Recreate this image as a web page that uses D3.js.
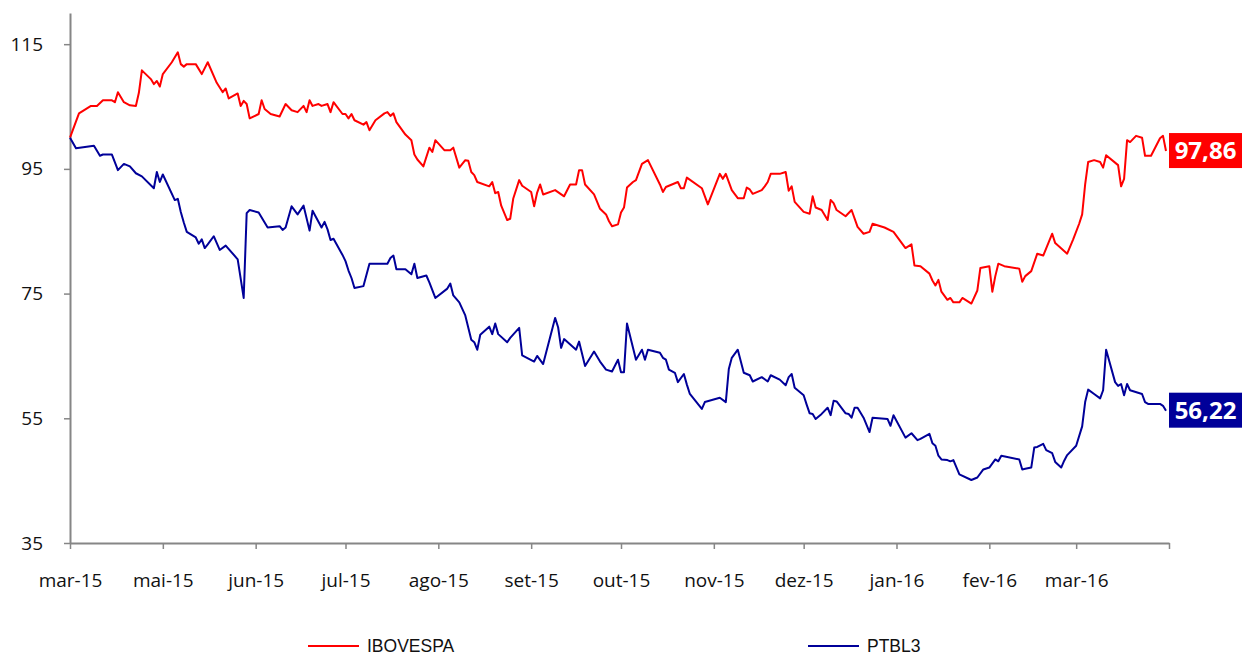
<!DOCTYPE html>
<html>
<head>
<meta charset="utf-8">
<script src="https://cdn.jsdelivr.net/npm/d3@7"></script>
<style>
  body { margin: 0; background: #fff; }
</style>
</head>
<body>
<script>
// Data: day offsets counted from the first day (31/03/2015), base 100
const startDate = new Date(2015, 2, 31);
const endDate = new Date(2016, 3, 1);

const ibovDays = [0,3,7,9,11,14,15,16,18,20,22,23,24,27,28,29,30,31,34,36,37,38,39,42,44,46,49,51,52,53,56,57,58,59,60,63,64,65,67,70,72,74,76,78,79,80,81,83,84,86,87,88,91,92,93,94,95,98,99,100,102,105,106,107,108,109,112,114,115,116,118,120,121,122,125,127,128,130,132,133,134,135,136,140,141,142,143,144,146,147,148,150,151,154,155,156,157,158,162,165,167,169,170,171,172,175,177,179,180,181,183,184,185,186,188,189,191,193,197,198,199,203,204,205,206,211,213,217,218,219,221,223,225,226,227,228,231,232,233,234,237,239,240,241,242,245,247,248,249,251,253,254,255,256,259,261,263,265,267,268,272,275,279,281,282,284,287,288,289,290,291,293,294,295,297,298,301,303,304,307,308,309,310,312,317,318,319,321,323,325,328,329,333,335,337,338,339,340,342,344,345,346,350,351,352,353,354,356,358,359,361,364,365,366];
const ibovValues = [100.0,103.9,105.1,105.1,106.0,106.0,105.7,107.3,105.7,105.2,105.1,107.2,110.8,109.4,108.6,109.1,108.2,110.2,112.1,113.7,111.8,111.4,111.8,111.8,110.2,112.1,108.8,107.3,107.9,106.3,107.1,105.1,105.9,105.4,103.1,103.8,106.0,104.6,103.8,103.4,105.4,104.4,104.1,105.1,104.1,106.0,105.1,105.4,105.1,105.4,104.1,105.7,103.8,103.8,103.1,103.8,102.8,102.1,102.5,101.2,102.8,103.9,104.1,103.5,103.9,102.5,100.5,99.6,97.3,96.5,95.4,98.4,97.7,99.6,98.0,98.0,98.4,95.2,96.4,96.3,94.5,94.0,92.9,92.2,92.9,91.1,91.3,89.1,86.8,87.0,90.2,93.2,92.3,91.3,89.0,91.2,92.5,90.9,91.6,90.6,92.5,92.5,94.8,94.8,92.5,90.9,88.6,87.7,86.6,85.8,86.1,88.0,88.8,92.0,92.9,93.2,95.8,96.4,92.5,91.3,92.1,92.9,91.9,91.9,93.6,91.9,89.3,94.2,93.4,94.2,91.6,90.3,90.3,92.0,91.7,91.0,91.6,92.2,92.9,94.2,94.2,94.5,91.5,92.2,89.7,88.1,87.8,90.6,88.8,88.4,86.8,90.0,89.5,88.4,87.4,88.4,85.7,84.6,84.9,86.2,85.6,84.9,82.3,82.9,79.5,79.4,78.2,77.1,76.3,77.2,75.3,74.0,74.3,73.6,73.6,74.3,73.4,75.5,79.1,79.4,75.3,77.8,79.8,79.4,79.0,76.9,77.8,78.6,81.4,81.1,84.6,83.1,81.4,83.7,86.2,87.7,92.5,96.1,96.4,96.1,95.2,97.2,95.6,92.2,93.4,99.6,99.3,100.3,100.0,97.1,97.1,99.9,100.3,97.86];

const ptblDays = [0,2,8,10,11,14,16,18,20,22,24,28,29,30,31,35,36,37,38,39,42,43,44,45,46,48,50,52,56,58,59,60,63,66,70,71,72,74,76,78,80,81,84,85,86,87,88,91,92,93,94,95,98,100,106,107,108,109,112,114,115,116,119,120,122,126,127,128,130,132,134,135,136,137,140,141,142,143,146,147,150,151,155,156,158,162,163,164,165,169,170,172,175,177,179,181,183,184,185,186,189,191,192,193,197,198,199,200,202,203,205,206,207,211,212,217,219,220,221,223,225,227,228,231,233,234,237,239,240,241,242,245,246,247,248,249,251,253,254,255,256,259,260,261,262,263,265,267,268,273,274,275,279,281,283,284,287,288,289,290,291,293,294,295,297,301,303,305,307,309,310,311,317,318,319,321,322,323,325,326,328,329,331,332,333,336,338,339,340,342,344,345,346,349,350,351,352,353,354,358,359,360,364,365,366];
const ptblValues = [100.0,98.3,98.7,97.1,97.3,97.3,94.8,95.8,95.4,94.3,93.8,91.9,94.5,92.9,94.1,90.0,90.2,88.1,86.4,84.9,84.0,83.0,83.7,82.3,82.9,84.2,82.0,82.7,80.5,74.3,87.9,88.4,88.0,85.6,85.8,85.2,85.6,89.0,87.7,89.1,85.1,88.3,85.6,86.5,85.3,83.6,83.8,81.2,80.2,78.7,77.5,75.9,76.2,79.8,79.8,80.7,81.1,78.9,78.9,78.1,79.8,77.5,77.9,76.8,74.3,75.8,76.6,74.7,73.6,71.5,67.6,67.2,66.0,68.4,69.7,68.5,70.2,68.5,67.2,67.9,69.5,65.1,64.1,65.0,63.7,71.1,69.6,66.3,67.7,66.0,67.3,63.4,65.7,64.1,62.8,62.5,64.4,62.4,62.4,70.2,64.4,66.0,64.4,66.0,65.5,64.7,64.4,62.8,62.3,60.8,62.1,60.4,58.9,56.5,57.6,58.3,57.6,62.9,64.7,66.0,62.3,61.9,60.9,61.6,60.9,61.9,61.2,60.3,61.6,62.1,59.9,58.7,57.2,55.8,55.7,54.9,55.7,56.7,55.5,57.8,57.7,55.8,55.7,55.1,56.7,56.7,55.1,52.8,55.1,54.9,53.8,55.5,51.9,52.6,51.5,51.7,52.5,51.0,50.6,49.0,48.4,48.3,48.1,48.3,46.0,45.1,45.5,46.8,47.1,48.4,48.1,49.0,48.4,46.8,46.9,47.1,50.3,50.4,50.9,49.9,49.4,48.0,47.1,48.2,49.1,50.6,53.7,57.6,59.6,58.9,58.2,59.5,66.0,60.8,60.2,60.5,58.7,60.5,59.5,58.9,57.6,57.3,57.3,57.0,56.22];

const tickDates = [new Date(2015,2,31), new Date(2015,4,1), new Date(2015,5,1), new Date(2015,6,1),
  new Date(2015,7,1), new Date(2015,8,1), new Date(2015,9,1), new Date(2015,10,1), new Date(2015,11,1),
  new Date(2016,0,1), new Date(2016,1,1), new Date(2016,2,1), new Date(2016,3,1)];
const tickLabels = ['mar-15','mai-15','jun-15','jul-15','ago-15','set-15','out-15','nov-15','dez-15','jan-16','fev-16','mar-16',''];
const yTicks = [35, 55, 75, 95, 115];

const seriesNames = ['IBOVESPA', 'PTBL3'];
const seriesColors = ['#ff0000', '#000099'];
const endLabels = ['97,86', '56,22'];

let width = 1242, height = 657;
let margin = { top: 13, bottom: 114, left: 70, right: 73 };

let svg = d3.select('body')
  .append('svg')
    .attr('width', width)
    .attr('height', height)
    .style('background', '#fff');

let xScale = d3.scaleTime()
  .domain([startDate, endDate])
  .range([margin.left, width - margin.right]);

let yScale = d3.scaleLinear()
  .domain([35, 120])
  .range([height - margin.bottom, margin.top]);

// axes
let yAxis = svg.append('g')
  .attr('transform', `translate(${margin.left},0)`)
  .call(d3.axisLeft(yScale).tickValues(yTicks).tickSize(6).tickSizeOuter(0).tickPadding(21));

let xAxis = svg.append('g')
  .attr('transform', `translate(0,${height - margin.bottom})`)
  .call(d3.axisBottom(xScale).tickValues(tickDates).tickSize(6).tickSizeOuter(0).tickPadding(25)
    .tickFormat((d, i) => tickLabels[i]));

[yAxis, xAxis].forEach(ax => {
  ax.select('.domain').attr('stroke', '#868686').attr('stroke-width', 2);
  ax.selectAll('.tick line').attr('stroke', '#868686').attr('stroke-width', 1.5);
  ax.selectAll('.tick text')
    .style('font-family', '"Open Sans", sans-serif')
    .style('font-size', '19px')
    .attr('fill', '#111');
});

// lines
let line = d3.line()
  .x(d => xScale(d3.timeDay.offset(startDate, d.day)))
  .y(d => yScale(d.value));

let series = [
  ibovDays.map((d, i) => ({ day: d, value: ibovValues[i] })),
  ptblDays.map((d, i) => ({ day: d, value: ptblValues[i] }))
];

series.forEach((s, k) => {
  svg.append('path')
    .datum(s)
    .attr('fill', 'none')
    .attr('stroke', seriesColors[k])
    .attr('stroke-width', 2)
    .attr('stroke-linejoin', 'round')
    .attr('d', line);

  // value box at the end of the line
  let last = s[s.length - 1];
  let yy = yScale(last.value);
  let bx = xScale(endDate);
  svg.append('rect')
    .attr('x', bx)
    .attr('y', yy - 18)
    .attr('width', width - bx)
    .attr('height', 35)
    .attr('fill', seriesColors[k]);
  svg.append('text')
    .attr('x', bx + (width - bx) / 2)
    .attr('y', yy)
    .attr('dy', '0.35em')
    .attr('text-anchor', 'middle')
    .style('font-family', '"Open Sans", sans-serif')
    .style('font-weight', 'bold')
    .style('font-size', '24px')
    .attr('fill', '#fff')
    .text(endLabels[k]);
});

// legend
let legend = svg.append('g').attr('transform', 'translate(308,646)');
seriesNames.forEach((name, k) => {
  let g = legend.append('g').attr('transform', `translate(${k * 500},0)`);
  g.append('line')
    .attr('x1', 0).attr('x2', 51)
    .attr('stroke', seriesColors[k])
    .attr('stroke-width', 2);
  g.append('text')
    .attr('x', 59)
    .attr('y', 6)
    .style('font-family', '"Liberation Sans", Arial, sans-serif')
    .style('font-size', '17.5px')
    .attr('fill', '#111')
    .text(name);
});
</script>
</body>
</html>
